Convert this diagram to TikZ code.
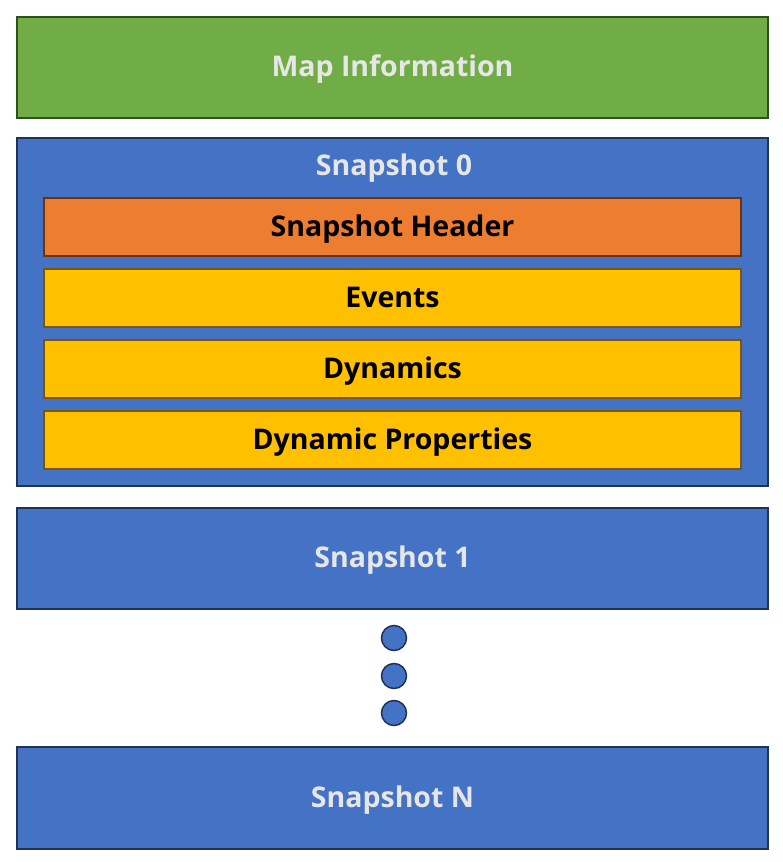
\documentclass[tikz,border=0pt]{standalone}
\usepackage{fontspec}
\setmainfont{Open Sans}
\definecolor{grn}{HTML}{70AD47}
\definecolor{grnd}{HTML}{2F4F1E}
\definecolor{blu}{HTML}{4472C4}
\definecolor{blud}{HTML}{1F3257}
\definecolor{org}{HTML}{ED7D31}
\definecolor{orgd}{HTML}{6E320F}
\definecolor{yel}{HTML}{FFC000}
\definecolor{yeld}{HTML}{7A5700}
\definecolor{lt}{HTML}{E7E6E6}
\tikzset{
  lbl/.style={font=\bfseries\fontsize{28.5}{32}\selectfont, text height=24pt, text depth=5.6pt},
  box/.style={draw, line width=2pt, inner sep=0pt, anchor=north west, lbl},
  greenbox/.style={box, fill=grn, draw=grnd, text=lt},
  bluebox/.style={box, fill=blu, draw=blud, text=lt},
  orangebox/.style={box, fill=org, draw=orgd, text=black},
  yellowbox/.style={box, fill=yel, draw=yeld, text=black},
  dot/.style={circle, draw=blud, fill=blu, line width=1.5pt, minimum size=25pt, inner sep=0pt}
}
\begin{document}
\begin{tikzpicture}[x=1pt,y=-1pt]
\useasboundingbox (0,0) rectangle (783,862);
\node[greenbox, minimum width=751pt, minimum height=101pt] (map) at (16,16) {Map Information};
\node[bluebox, minimum width=751pt, minimum height=348pt] (s0) at (16,137) {};
\node[lbl, inner sep=0pt, text=lt] (s0t) at (394,166) {Snapshot 0};
\node[orangebox, minimum width=697pt, minimum height=58pt] (hdr) at (43,197) {Snapshot Header};
\node[yellowbox, minimum width=697pt, minimum height=58pt] (ev) at (43,268) {Events};
\node[yellowbox, minimum width=697pt, minimum height=58pt] (dyn) at (43,339) {Dynamics};
\node[yellowbox, minimum width=697pt, minimum height=58pt] (dp) at (43,410) {Dynamic Properties};
\node[bluebox, minimum width=751pt, minimum height=101pt] (s1) at (16,507) {Snapshot 1};
\node[dot] (d1) at (394,638) {};
\node[dot] (d2) at (394,676) {};
\node[dot] (d3) at (394,713) {};
\node[bluebox, minimum width=751pt, minimum height=102pt] (sn) at (16,746) {Snapshot N};
\end{tikzpicture}
\end{document}
